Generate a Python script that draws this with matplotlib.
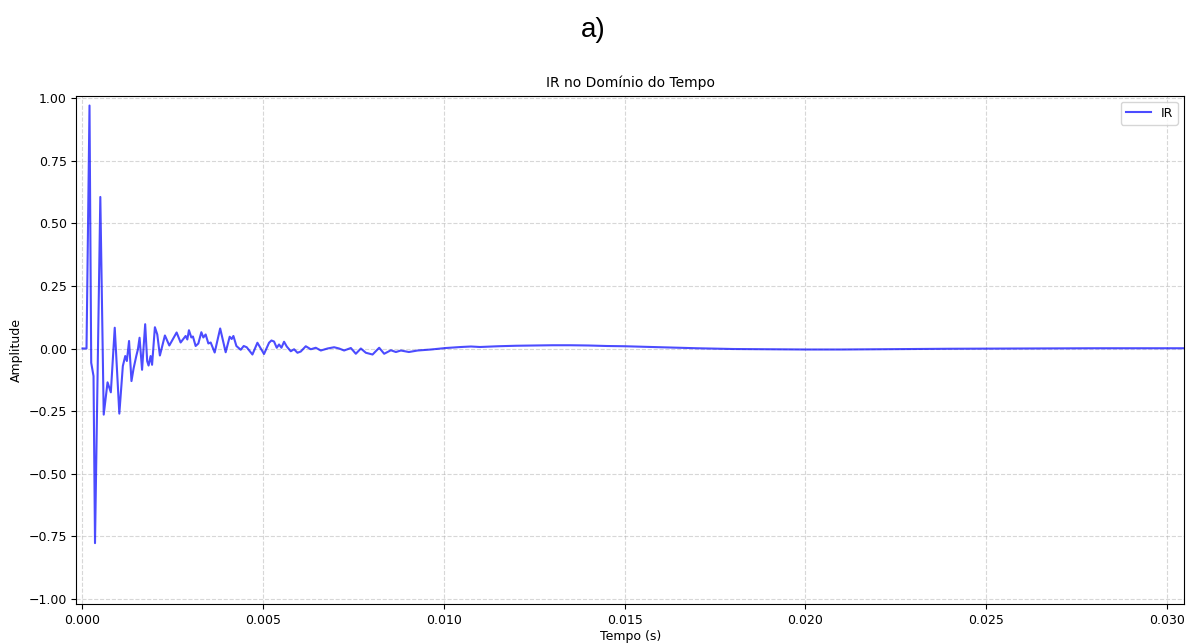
import numpy as np
import matplotlib
matplotlib.use('Agg')
import matplotlib.pyplot as plt

# Impulse response (time in ms, amplitude)
t_ms = [0.000, 0.111, 0.194, 0.241, 0.305, 0.346, 0.493, 0.587, 0.693, 0.784,
        0.892, 1.019, 1.116, 1.183, 1.227, 1.288, 1.355, 1.413, 1.488, 1.532,
        1.579, 1.648, 1.734, 1.789, 1.828, 1.884, 1.925, 2.003, 2.069, 2.141,
        2.280, 2.402, 2.604, 2.715, 2.853, 2.900, 2.945, 3.011, 3.055, 3.130,
        3.205, 3.288, 3.343, 3.407, 3.482, 3.546, 3.657, 3.809, 3.961, 4.072,
        4.127, 4.175, 4.258, 4.377, 4.460, 4.543, 4.701, 4.839, 5.022, 5.161,
        5.227, 5.299, 5.374, 5.438, 5.504, 5.576, 5.651, 5.762, 5.853, 5.947,
        6.039, 6.177, 6.316, 6.454, 6.593, 6.778, 6.961, 7.100, 7.238, 7.424,
        7.562, 7.701, 7.839, 8.025, 8.208, 8.346, 8.532, 8.670, 8.809, 9.030,
        9.271, 9.640, 10.055, 10.471, 10.748, 10.997, 11.5, 12.0, 12.5, 13.0,
        13.5, 14.0, 14.5, 15.0, 16.0, 17.0, 18.0, 19.0, 20.0, 21.0,
        22.0, 24.0, 26.0, 28.0, 30.0, 30.6]
amp = [0.000, 0.000, 0.970, -0.057, -0.110, -0.777, 0.605, -0.264, -0.135, -0.175,
       0.083, -0.260, -0.070, -0.030, -0.050, 0.030, -0.130, -0.080, -0.030, -0.004,
       0.043, -0.085, 0.097, -0.050, -0.068, -0.030, -0.065, 0.085, 0.056, -0.028,
       0.052, 0.012, 0.064, 0.024, 0.050, 0.036, 0.073, 0.044, 0.048, 0.010,
       0.020, 0.065, 0.044, 0.056, 0.020, 0.024, -0.016, 0.080, -0.015, 0.047,
       0.038, 0.050, 0.010, -0.005, 0.010, 0.005, -0.024, 0.023, -0.022, 0.023,
       0.032, 0.028, 0.003, 0.016, 0.003, 0.027, 0.008, -0.011, -0.003, -0.017,
       -0.012, 0.009, -0.003, 0.003, -0.008, 0.000, 0.005, 0.000, -0.008, 0.002,
       -0.021, 0.000, -0.017, -0.024, 0.003, -0.021, -0.007, -0.014, -0.008, -0.014,
       -0.008, -0.004, 0.002, 0.006, 0.008, 0.006, 0.009, 0.011, 0.012, 0.013,
       0.013, 0.012, 0.010, 0.009, 0.005, 0.001, -0.002, -0.003, -0.004, -0.004,
       -0.003, -0.001, 0.000, 0.001, 0.001, 0.001]

t = np.array(t_ms) / 1000.0

fig = plt.figure(figsize=(11.86, 6.44), dpi=100)
fig.text(0.5, 0.953, 'a)', ha='center', va='center', fontsize=20,
         family='Liberation Sans')
ax = fig.add_axes([0.0645, 0.0621, 0.934, 0.7896])
ax.plot(t, amp, color='blue', alpha=0.7, lw=1.5, label='IR')
ax.set_xlim(-0.000166, 0.03048)
ax.set_ylim(-1.02, 1.01)
ax.set_xticks([0.0, 0.005, 0.010, 0.015, 0.020, 0.025, 0.030])
ax.set_yticks([-1.0, -0.75, -0.5, -0.25, 0.0, 0.25, 0.5, 0.75, 1.0])
ax.grid(True, linestyle='--', alpha=0.5)
ax.set_title('IR no Domínio do Tempo', fontsize=10)
ax.set_xlabel('Tempo (s)', fontsize=9, labelpad=2)
ax.set_ylabel('Amplitude', fontsize=9)
ax.tick_params(labelsize=9)
ax.legend(loc='upper right', fontsize=9)

fig.savefig('out.png', dpi=100)
